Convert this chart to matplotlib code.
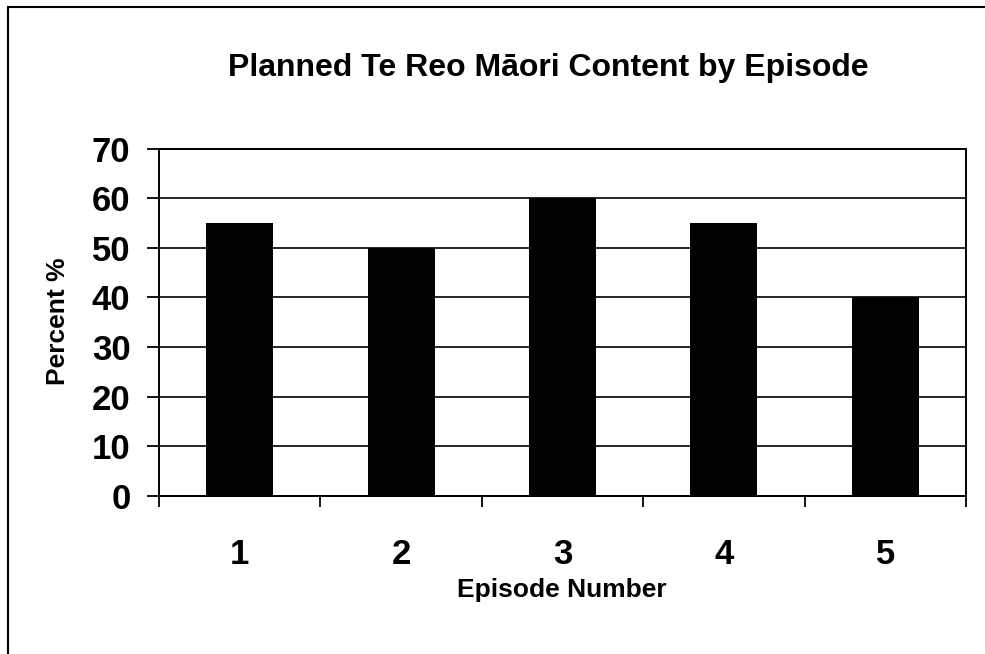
import matplotlib
matplotlib.use('Agg')
import matplotlib.pyplot as plt
from matplotlib.patches import Rectangle

# data
episodes = ['1', '2', '3', '4', '5']
percent = [55, 50, 60, 55, 40]
y_ticks = [0, 10, 20, 30, 40, 50, 60, 70]

plt.rcParams['font.family'] = ['Liberation Sans', 'DejaVu Sans']
plt.rcParams['font.weight'] = 'bold'

fig = plt.figure(figsize=(9.85, 6.54), dpi=100)
ax = fig.add_axes([159 / 985, 1 - 496 / 654, (966 - 159) / 985, (496 - 148.5) / 654])

x = list(range(1, len(episodes) + 1))
ax.bar(x, percent, width=0.415, color='black', zorder=3)

ax.set_xlim(0.5, len(episodes) + 0.5)
ax.set_ylim(0, 70)
ax.set_yticks(y_ticks)
ax.set_yticklabels([str(v) for v in y_ticks], fontsize=25, fontweight='bold')
ax.set_xticks(x)
ax.set_xticklabels(episodes, fontsize=25, fontweight='bold')
ax.set_xticks([v + 0.5 for v in range(len(episodes) + 1)], minor=True)

ax.tick_params(axis='y', direction='out', length=8.6, width=1.3, pad=12, color='black')
ax.tick_params(axis='x', which='major', length=0, pad=30)
ax.tick_params(axis='x', which='minor', direction='out', length=8, width=1.3)

ax.yaxis.grid(True, color='black', linewidth=1.2, zorder=1)
for s in ['left', 'bottom', 'right', 'top']:
    ax.spines[s].set_linewidth(1.4)
    ax.spines[s].set_color('black')

fig.text(548 / 985, 1 - 68 / 654, 'Planned Te Reo Māori Content by Episode',
         ha='center', va='center', fontsize=23, fontweight='bold')
fig.text(562 / 985, 1 - 590 / 654, 'Episode Number',
         ha='center', va='center', fontsize=19, fontweight='bold')
fig.text(58 / 985, 1 - 321 / 654, 'Percent %', rotation=90,
         ha='center', va='center', fontsize=19, fontweight='bold')

# outer chart border (right and bottom edges fall outside the image)
fig.patches.append(Rectangle((8 / 985, -0.1), 1.2, 1.1 - 7 / 654,
                             transform=fig.transFigure, fill=False,
                             edgecolor='black', linewidth=1.5))

fig.savefig('out.png', dpi=100)
